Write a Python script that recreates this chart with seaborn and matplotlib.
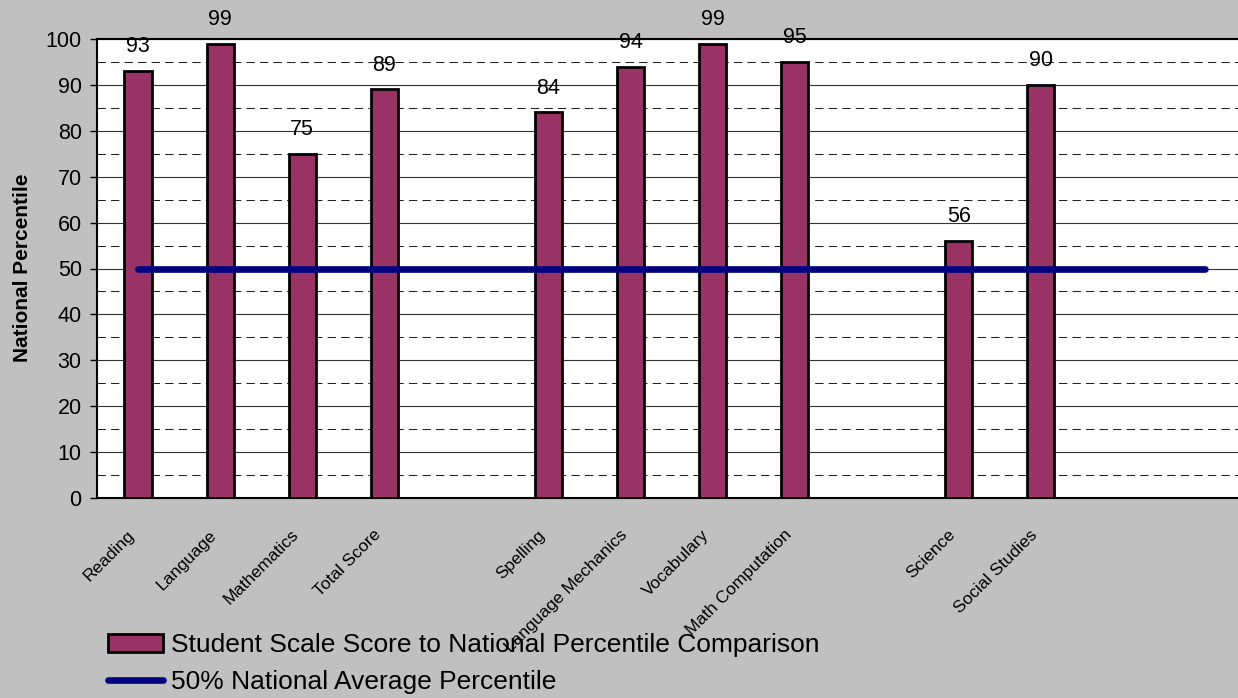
import numpy as np
import pandas as pd
import matplotlib
matplotlib.use("Agg")
import matplotlib.pyplot as plt
import matplotlib.transforms as mtransforms
import seaborn as sns
from matplotlib.patches import Patch
from matplotlib.lines import Line2D

# data (blank slots are empty categories)
categories = ["Reading", "Language", "Mathematics", "Total Score", " ",
              "Spelling", "Language Mechanics", "Vocabulary", "Math Computation", "  ",
              "Science", "Social Studies", "   ", "    "]
scores = [93, 99, 75, 89, np.nan, 84, 94, 99, 95, np.nan, 56, 90, np.nan, np.nan]
national_avg = [50] * len(categories)

bar_name = "Student Scale Score to National Percentile Comparison"
line_name = "50% National Average Percentile"

sns.set_style("white")
plt.rcParams["font.family"] = ["Liberation Sans", "DejaVu Sans"]
plt.rcParams["text.color"] = "black"
plt.rcParams["xtick.color"] = "black"
plt.rcParams["ytick.color"] = "black"

df = pd.DataFrame({"subject": categories, "percentile": scores})

fig = plt.figure(figsize=(12.38, 6.98), dpi=100, facecolor="#C0C0C0")
ax = fig.add_axes([97 / 1238, 1 - 498 / 698, (1246 - 97) / 1238, (498 - 39) / 698])
ax.set_facecolor("white")

sns.barplot(data=df, x="subject", y="percentile", order=categories,
            color="#993366", saturation=1, edgecolor="black", linewidth=2,
            width=0.33, ax=ax, zorder=3)
ax.plot(np.arange(len(categories)), national_avg, color="#000080", lw=4.8,
        solid_capstyle="round", zorder=4)

ax.bar_label(ax.containers[0], fmt="%g", padding=10, fontsize=15.5, color="black")

# axes styling
ax.set_ylim(0, 100)
ax.set_xlim(-0.5, len(categories) - 0.5)
ax.set_yticks(np.arange(0, 101, 10))
ax.set_yticks(np.arange(5, 100, 10), minor=True)
ax.grid(axis="y", which="major", color="#333333", lw=0.8, zorder=0)
ax.grid(axis="y", which="minor", color="#222222", lw=0.75, ls=(0, (8, 5)), zorder=0)
ax.grid(axis="x", visible=False)
ax.tick_params(axis="y", which="major", direction="out", length=5, width=1,
               pad=6, labelsize=15.5, left=True)
ax.tick_params(axis="y", which="minor", length=0)
ax.tick_params(axis="x", length=0, pad=21)
for side in ["left", "bottom", "top"]:
    ax.spines[side].set_linewidth(1.5)
    ax.spines[side].set_color("black")
ax.spines["right"].set_visible(False)

ax.set_xticks(np.arange(len(categories)))
ax.set_xticklabels(categories, rotation=45, ha="right", va="top",
                   rotation_mode="anchor", fontsize=12.5)
shift = mtransforms.ScaledTranslation(-11 / 100, 0, fig.dpi_scale_trans)
for lbl in ax.get_xticklabels():
    lbl.set_transform(lbl.get_transform() + shift)
ax.set_xlabel("")
ax.set_ylabel("")
fig.text(23 / 1238, 1 - 268 / 698, "National Percentile", rotation=90,
         fontsize=15, fontweight="bold", ha="center", va="center")

handles = [Patch(facecolor="#993366", edgecolor="black", linewidth=2, label=bar_name),
           Line2D([0], [0], color="#000080", lw=4.8, solid_capstyle="round", label=line_name)]
fig.legend(handles=handles, loc="upper left", bbox_to_anchor=(108 / 1238, 1 - 633 / 698),
           frameon=False, fontsize=19, handlelength=2.1, handletextpad=0.3,
           labelspacing=0.5, borderpad=0, borderaxespad=0)

fig.savefig("out.png", dpi=100, facecolor=fig.get_facecolor())
